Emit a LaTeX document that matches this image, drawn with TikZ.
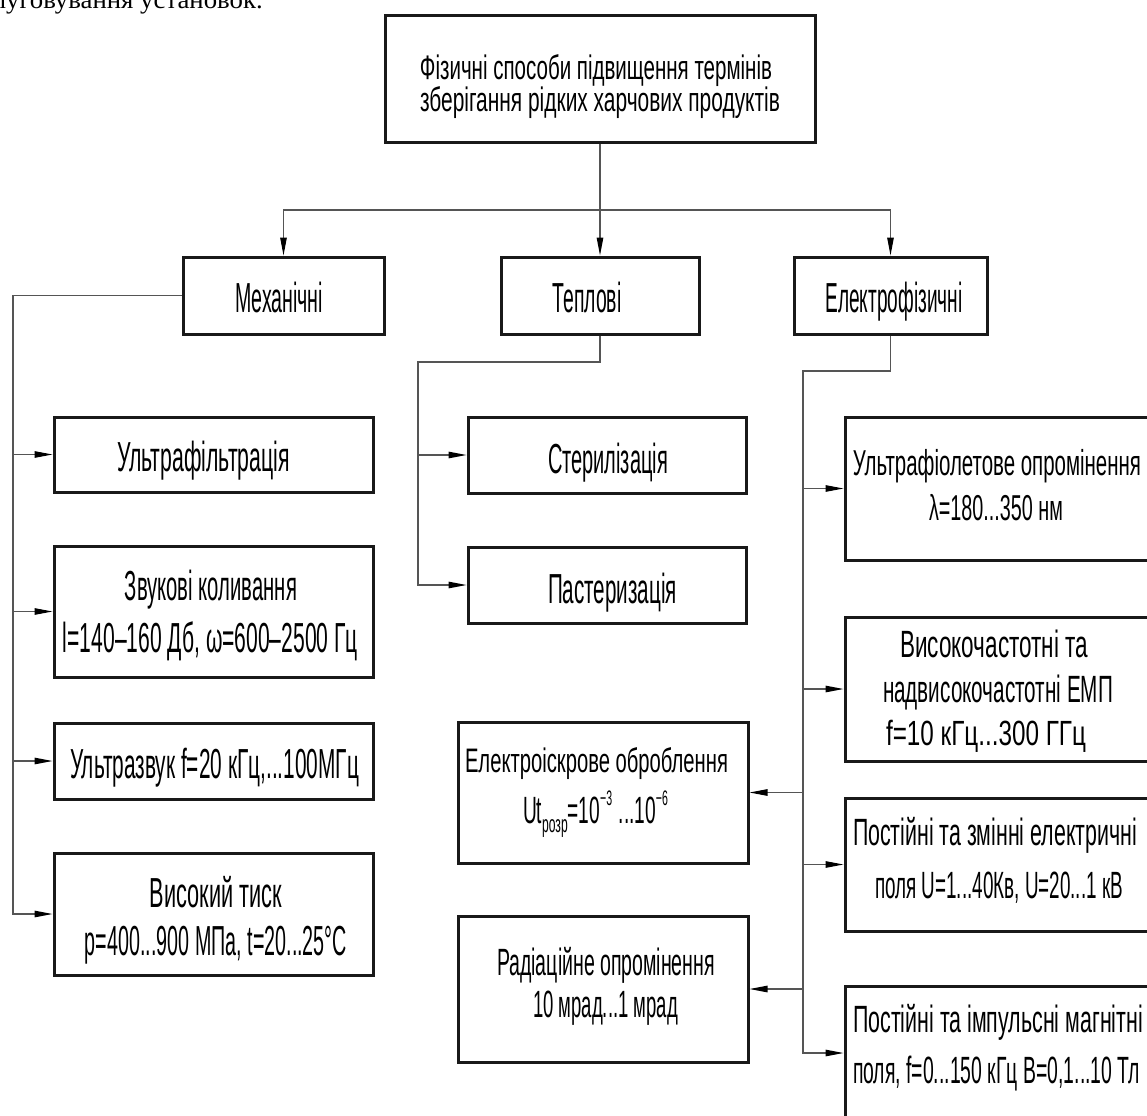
\documentclass[tikz,border=0pt]{standalone}
\usepackage{fontspec}
\usepackage{graphicx}
\setmainfont{Liberation Serif}
\newfontfamily\gost[FakeStretch=0.5]{Liberation Sans}
\newfontfamily\timesf{Liberation Serif}
\usetikzlibrary{arrows.meta}
\newcommand{\fw}[2]{\resizebox{#1pt}{\height}{#2}}
\newcommand{\smallup}[1]{\raisebox{18pt}{\fontsize{21}{21}\selectfont #1}}
\newcommand{\smalldn}[1]{\raisebox{-9pt}{\fontsize{24}{24}\selectfont #1}}
\definecolor{conncol}{RGB}{85,85,85}
\definecolor{boxcol}{RGB}{25,25,25}
\tikzset{
  box/.style={draw=boxcol, line width=3pt, inner sep=0pt, rectangle},
  conn/.style={draw=conncol, line width=1.1pt},
  arr/.style={conn, -{Triangle[length=18pt,width=6.5pt,color=black]}},
  tx/.style={inner sep=0pt, anchor=base, text=black},
  fa/.style={tx, font=\gost\fontsize{34}{34}\selectfont},
  fb/.style={tx, font=\gost\fontsize{42}{42}\selectfont},
  fc/.style={tx, font=\gost\fontsize{38}{38}\selectfont},
  fu/.style={tx, font=\gost\fontsize{36}{36}\selectfont},
  fd/.style={tx, font=\gost\fontsize{34}{34}\selectfont},
  fe/.style={tx, font=\gost\fontsize{35}{35}\selectfont},
}
\begin{document}
\begin{tikzpicture}[x=1pt,y=-1pt]
\useasboundingbox (0,0) rectangle (1147,1115);
% fragment of text above the figure
\node[tx, anchor=base east, font=\timesf\fontsize{26}{26}\selectfont] (frag) at (263,9) {\fw{270}{луговування установок.}};
% boxes
\node[box, minimum width=430, minimum height=127] (top) at (600,79.5) {};
\node[box, minimum width=201, minimum height=77] (mech) at (283.5,295.5) {};
\node[box, minimum width=198, minimum height=77] (tepl) at (600,295.5) {};
\node[box, minimum width=193, minimum height=77] (elec) at (890.5,295.5) {};
\node[box, minimum width=319, minimum height=75] (uf) at (213.5,454.5) {};
\node[box, minimum width=319, minimum height=131] (zv) at (213.5,611.5) {};
\node[box, minimum width=319, minimum height=76] (uz) at (213.5,761) {};
\node[box, minimum width=319, minimum height=122] (vt) at (213.5,914) {};
\node[box, minimum width=278, minimum height=76] (ster) at (607,455) {};
\node[box, minimum width=278, minimum height=76] (past) at (607,585) {};
\node[box, minimum width=315, minimum height=143] (uv) at (1002.5,488.5) {};
\node[box, minimum width=315, minimum height=144] (vch) at (1002.5,689) {};
\node[box, minimum width=315, minimum height=133] (pzm) at (1002.5,864.5) {};
\node[box, minimum width=315, minimum height=134] (pim) at (1002.5,1053) {};
\node[box, minimum width=290, minimum height=141] (eis) at (603,792.5) {};
\node[box, minimum width=290, minimum height=146] (rad) at (603,989) {};
% texts
\node[fa] (t1) at (596,80) {\fw{352}{Фізичні способи підвищення термінів}};
\node[fa] (t2) at (600,112) {\fw{360}{зберігання рідких харчових продуктів}};
\node[fb] (tm) at (279,312) {\fw{88}{Механічні}};
\node[fb] (tt) at (587,312) {\fw{69}{Теплові}};
\node[fb] (te) at (894,312) {\fw{137}{Електрофізичні}};
\node[fb] (tuf) at (203.5,471) {\fw{173}{Ультрафільтрація}};
\node[fb] (tzv1) at (211,600) {\fw{172}{Звукові коливання}};
\node[fb] (tzv2) at (210.5,652) {\fw{295}{l=140–160 Дб, ω=600–2500 Гц}};
\node[fb] (tuz) at (214.5,778) {\fw{289}{Ультразвук f=20 кГц,...100МГц}};
\node[fb] (tvt1) at (216,907) {\fw{132}{Високий тиск}};
\node[fb] (tvt2) at (216,955) {\fw{262}{p=400...900 МПа, t=20...25°C}};
\node[fb] (tst) at (608,473) {\fw{120}{Стерилізація}};
\node[fb] (tps) at (612.5,603) {\fw{129}{Пастеризація}};
\node[fu] (tuv1) at (997,475) {\fw{288}{Ультрафіолетове опромінення}};
\node[fu] (tuv2) at (996,520) {\fw{134}{λ=180...350 нм}};
\node[fc] (tv1) at (994,657) {\fw{188}{Високочастотні та}};
\node[fc] (tv2) at (998,702) {\fw{230}{надвисокочастотні ЕМП}};
\node[fe] (tv3) at (986,745) {\fw{200}{f=10 кГц...300 ГГц}};
\node[fc] (tp1) at (995,845) {\fw{284}{Постійні та змінні електричні}};
\node[fc] (tp2) at (999,898) {\fw{248}{поля U=1...40Кв, U=20...1 кВ}};
\node[fc] (ti1) at (998,1032) {\fw{290}{Постійні та імпульсні магнітні}};
\node[fc] (ti2) at (996.5,1083) {\fw{287}{поля, f=0...150 кГц B=0,1...10 Тл}};
\node[fd] (te1) at (596.5,772) {\fw{263}{Електроіскрове оброблення}};
\node[fc] (te2) at (595.5,823) {\fw{145}{Ut\smalldn{розр}=10\smallup{−3}\,...10\smallup{−6}}};
\node[fc] (tr1) at (606,975) {\fw{218}{Радіаційне опромінення}};
\node[fc] (tr2) at (605.5,1017) {\fw{145}{10 мрад...1 мрад}};
% connectors
\coordinate (split) at (600,210);
\draw[conn] (top.south) -- (split);
\draw[arr] (split) -- (tepl.north);
\draw[arr] (split) -| (mech.north);
\draw[arr] (split) -| (elec.north);
\coordinate (mbus) at (13,295.5);
\draw[arr] (mech.west) -- (mbus) |- (vt.west);
\foreach \n in {uf,zv,uz} \draw[arr] (mbus |- \n.west) -- (\n.west);
\coordinate (tbus) at (418,362);
\draw[arr] (tepl.south) |- (tbus) |- (past.west);
\draw[arr] (tbus |- ster.west) -- (ster.west);
\coordinate (ebus) at (803,371);
\draw[arr] (elec.south) |- (ebus) |- (pim.west);
\foreach \n in {uv,vch,pzm} \draw[arr] (ebus |- \n.west) -- (\n.west);
\draw[arr] (ebus |- eis.east) -- (eis.east);
\draw[arr] (ebus |- rad.east) -- (rad.east);
\end{tikzpicture}
\end{document}
